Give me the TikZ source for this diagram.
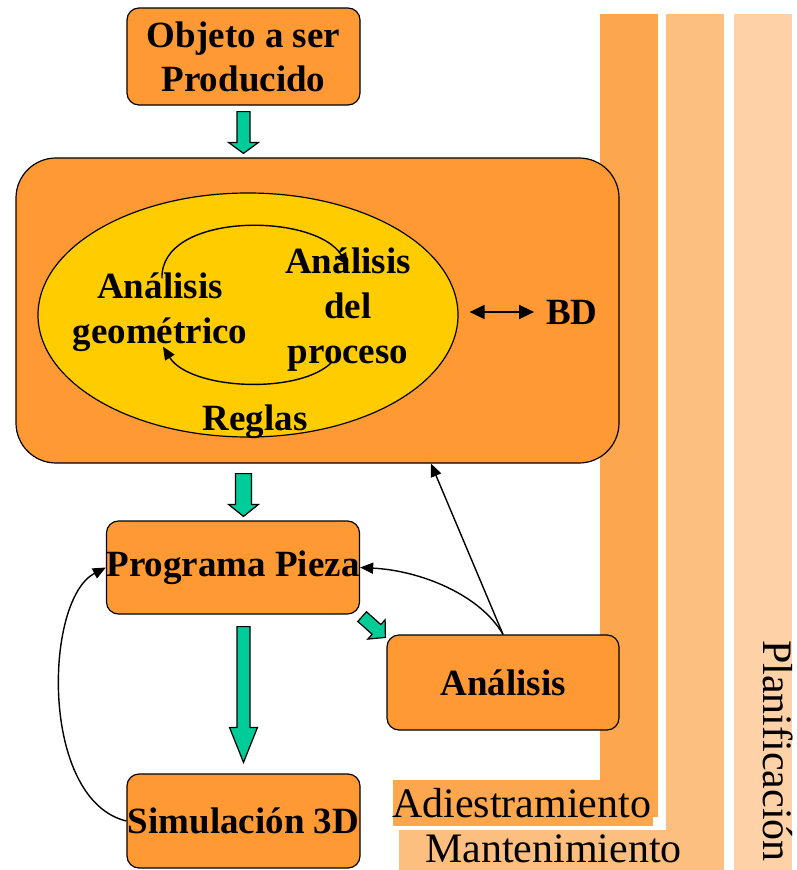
\documentclass[tikz,border=0pt]{standalone}
\usepackage{fontspec}
\setmainfont{Liberation Serif}
\usetikzlibrary{calc,arrows.meta,shapes.geometric}

\definecolor{naranja}{RGB}{255,153,51}
\definecolor{amarillo}{RGB}{255,204,0}
\definecolor{verde}{RGB}{0,204,153}
\definecolor{franjaA}{RGB}{252,166,77}
\definecolor{franjaB}{RGB}{253,191,128}
\definecolor{franjaC}{RGB}{254,209,166}

% block arrow: start, tip, half shaft, half head, head length
\newcommand{\flechabloque}[5]{%
  \coordinate (fb) at ($(#2)!#5!(#1)$);
  \draw[garrow] ($(#1)!#3!90:(#2)$) -- ($(fb)!#3!-90:(#1)$) -- ($(fb)!#4!-90:(#1)$)
    -- (#2) -- ($(fb)!#4!90:(#1)$) -- ($(fb)!#3!90:(#1)$) -- ($(#1)!#3!-90:(#2)$) -- cycle;}

\begin{document}
\begin{tikzpicture}[x=1pt,y=-1pt,
   caja/.style={draw,fill=naranja,line width=1.2pt,rounded corners=12pt,inner sep=0pt,
     align=center,font=\bfseries\fontsize{37}{44}\selectfont},
   txt/.style={inner sep=0pt,align=center,font=\bfseries\fontsize{37}{45}\selectfont},
   etiq/.style={inner sep=0pt,font=\fontsize{42}{50}\selectfont},
   flecha/.style={line width=1.4pt,-{Triangle[length=13pt,width=11pt]}},
   garrow/.style={draw,fill=verde,line width=1.2pt,line join=miter}]
 \useasboundingbox (0,0) rectangle (797,870);

 \fill[franjaA] (600,14) rectangle (658,817);
 \fill[franjaA] (393,780) rectangle (653,826);
 \fill[franjaB] (666,14) rectangle (724,870);
 \fill[franjaB] (399,830) rectangle (724,870);
 \fill[franjaC] (734,14) rectangle (792,870);
 \node[etiq,anchor=base west] (adiest) at (392,817) {Adiestramiento};
 \node[etiq,anchor=base west] (mant) at (425,862) {Mantenimiento};
 \node[etiq,anchor=base west,rotate=-90] (plan) at (763,640) {Planificación};

 \node[caja,minimum width=233pt,minimum height=97pt] (objeto) at (243.5,56.5) {Objeto a ser\\Producido};
 \node[caja,rounded corners=40pt,minimum width=603pt,minimum height=305pt] (proceso) at (317.5,310.5) {};
 \node[draw,ellipse,fill=amarillo,line width=1.2pt,inner sep=0pt,
   minimum width=420pt,minimum height=244pt] (elip) at (248,315) {};
 \node[txt] (geo) at (160,312) {Análisis\\geométrico};
 \node[txt] (proc) at (348,310) {Análisis\\del\\proceso};
 \node[txt,anchor=base] (reglas) at (255,430) {Reglas};
 \node[txt] (bd) at (572,312) {BD};

 \node[caja,minimum width=252pt,minimum height=93pt] (programa) at (233,567.5) {Programa Pieza};
 \node[caja,minimum width=232pt,minimum height=95pt] (analisis) at (503,682.5) {Análisis};
 \node[caja,minimum width=233pt,minimum height=94pt] (simulacion) at (243.5,821) {Simulación 3D};

 \draw[flecha] ($(geo.north)+(2,6)$) .. controls (160,212) and (315,212) .. ($(proc.north)+(0,18)$);
 \draw[flecha] ($(proc.south)+(-16,-10)$) .. controls (300,395) and (190,390) .. ($(geo.south)+(3,-5)$);
 \draw[line width=1.5pt,{Triangle[length=15pt,width=14pt]}-{Triangle[length=15pt,width=14pt]}]
   ([xshift=11pt]elip.east |- bd.center) -- ([xshift=-12pt]bd.west);

 \coordinate (v1a) at ($(objeto.south)+(0,6)$);
 \coordinate (v1b) at ($(objeto.south |- proceso.north)+(0,-4)$);
 \coordinate (v2a) at ($(objeto.south |- proceso.south)+(0,10)$);
 \coordinate (v2b) at ($(objeto.south |- programa.north)+(0,-4)$);
 \coordinate (v3a) at ($(simulacion.north |- programa.south)+(0,12)$);
 \coordinate (v3b) at ($(simulacion.north)+(0,-11)$);
 \coordinate (v4a) at ($(programa.south east)+(2,2)$);
 \coordinate (v4b) at ($(analisis.north west)+(-1,3)$);
 \flechabloque{v1a}{v1b}{6.5pt}{15pt}{11pt}
 \flechabloque{v2a}{v2b}{8pt}{15pt}{12pt}
 \flechabloque{v3a}{v3b}{6.5pt}{14pt}{35pt}
 \flechabloque{v4a}{v4b}{6.5pt}{13pt}{12pt}

 \draw[flecha] (analisis.north) -- ([xshift=-72pt]analisis.north |- proceso.south);
 \draw[flecha] (analisis.north) .. controls +(-23,-40) and +(60,3) .. (programa.east);
 \draw[flecha] (simulacion.west) .. controls +(-87,-21) and +(-62,32) .. (programa.west);
\end{tikzpicture}
\end{document}
